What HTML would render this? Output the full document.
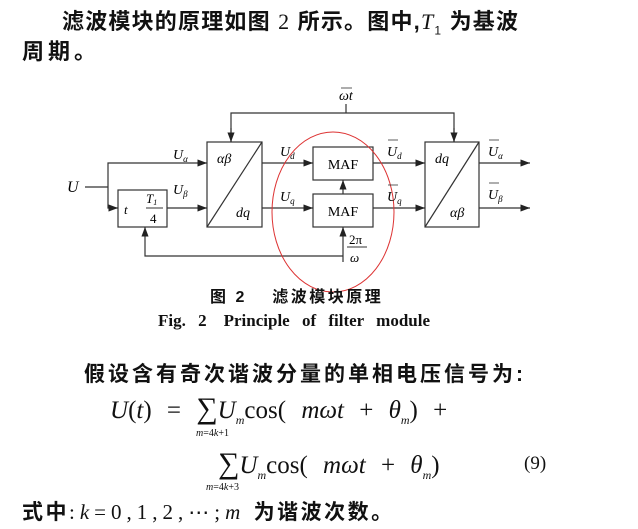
<!DOCTYPE html>
<html><head><meta charset="utf-8"><style>
body{margin:0;background:#fff;width:638px;height:529px;overflow:hidden;position:relative;font-family:"Liberation Serif","Noto Serif CJK SC",serif;color:#111}
.t{position:absolute;white-space:nowrap}
.b{font-family:"Liberation Sans","Noto Sans CJK SC",sans-serif;font-weight:bold}
</style></head><body>
<div class="t b" style="left:62px;top:4px;font-size:22px;letter-spacing:1.2px">滤波模块的原理如图 <span style="font-weight:normal;font-family:'Liberation Serif'">2</span> 所示。图中,<i style="font-family:'Liberation Serif';font-weight:normal">T</i><sub style="font-size:12px;font-weight:normal">1</sub> 为基波</div>
<div class="t b" style="left:22px;top:34px;font-size:22px;letter-spacing:4px">周期。</div>
<svg class="t" style="left:0;top:0" width="638" height="300" font-family="Liberation Serif" font-style="italic" font-size="14">
<defs><marker id="a" markerWidth="8" markerHeight="6" refX="8" refY="3" orient="auto"><path d="M0,0L8,3L0,6z" fill="#222"/></marker></defs>
<g stroke="#333" stroke-width="1.2" fill="none">
<rect x="207" y="142" width="55" height="85"/><line x1="207" y1="227" x2="262" y2="142"/>
<rect x="425" y="142" width="54" height="85"/><line x1="425" y1="227" x2="479" y2="142"/>
<rect x="313" y="147" width="60" height="33"/><rect x="313" y="194" width="60" height="33"/>
<rect x="118" y="190" width="49" height="37"/>
<path d="M231,142V113H454V142" /><line x1="346" y1="104" x2="346" y2="113"/>
<path d="M231,128V142" marker-end="url(#a)"/><path d="M454,128V142" marker-end="url(#a)"/>
<line x1="85" y1="187" x2="108" y2="187"/>
<path d="M108,187V163H207" marker-end="url(#a)"/>
<path d="M108,187V208H118" marker-end="url(#a)"/>
<line x1="167" y1="208" x2="207" y2="208" marker-end="url(#a)"/>
<line x1="262" y1="163" x2="313" y2="163" marker-end="url(#a)"/>
<line x1="262" y1="208" x2="313" y2="208" marker-end="url(#a)"/>
<line x1="373" y1="163" x2="425" y2="163" marker-end="url(#a)"/>
<line x1="373" y1="208" x2="425" y2="208" marker-end="url(#a)"/>
<line x1="479" y1="163" x2="530" y2="163" marker-end="url(#a)"/>
<line x1="479" y1="208" x2="530" y2="208" marker-end="url(#a)"/>
<line x1="343" y1="194" x2="343" y2="180" marker-end="url(#a)"/>
<path d="M343,262V227" marker-end="url(#a)"/>
<path d="M343,256H145V227" marker-end="url(#a)"/>
<ellipse cx="333" cy="212" rx="61" ry="80" stroke="#d33" stroke-width="1"/>
<line x1="347" y1="247" x2="367" y2="247" stroke-width="1"/>
<line x1="146" y1="208" x2="163" y2="208" stroke-width="1"/>
<line x1="341" y1="88" x2="352" y2="88" stroke-width="0.8"/>
<line x1="388" y1="140" x2="398" y2="140" stroke-width="0.8"/>
<line x1="388" y1="185" x2="398" y2="185" stroke-width="0.8"/>
<line x1="489" y1="140" x2="499" y2="140" stroke-width="0.8"/>
<line x1="489" y1="183" x2="499" y2="183" stroke-width="0.8"/>
</g>
<text x="339" y="100">ωt</text>
<text x="67" y="192" font-size="16">U</text>
<text x="173" y="159">U<tspan font-size="9" dy="3">α</tspan></text>
<text x="173" y="194">U<tspan font-size="9" dy="3">β</tspan></text>
<text x="217" y="163">αβ</text><text x="236" y="217">dq</text>
<text x="435" y="163">dq</text><text x="450" y="217">αβ</text>
<text x="280" y="156">U<tspan font-size="9" dy="3">d</tspan></text>
<text x="280" y="201">U<tspan font-size="9" dy="3">q</tspan></text>
<text x="387" y="156">U<tspan font-size="9" dy="3">d</tspan></text>
<text x="387" y="201">U<tspan font-size="9" dy="3">q</tspan></text>
<text x="488" y="156">U<tspan font-size="9" dy="3">α</tspan></text>
<text x="488" y="199">U<tspan font-size="9" dy="3">β</tspan></text>
<text x="124" y="214" font-size="13">t</text>
<text x="146" y="203" font-size="13">T<tspan font-size="8" dy="2">1</tspan></text>
<text x="150" y="223" font-size="13" font-style="normal">4</text>
<text x="343" y="169" font-style="normal" font-size="14" text-anchor="middle">MAF</text>
<text x="343" y="216" font-style="normal" font-size="14" text-anchor="middle">MAF</text>
<text x="349" y="244" font-style="normal" font-size="13">2π</text>
<text x="350" y="262" font-size="13">ω</text>
</svg>
<div class="t b" style="left:210px;top:283px;font-size:16px;letter-spacing:2.5px">图 2　 滤波模块原理</div>
<div class="t" style="left:158px;top:306px;font-size:17px;font-weight:bold;word-spacing:8px">Fig. 2　Principle of filter module</div>
<div class="t b" style="left:84px;top:358px;font-size:21px;letter-spacing:3px">假设含有奇次谐波分量的单相电压信号为:</div>
<div class="t" style="left:110px;top:392px;font-size:25px;word-spacing:9px"><i>U</i>(<i>t</i>) = <span style="font-size:30px">∑</span><i>U<sub style="font-size:12px">m</sub></i>cos( <i>mωt</i> + <i>θ<sub style="font-size:12px">m</sub></i>) +</div>
<div class="t" style="left:196px;top:428px;font-size:10px"><i>m</i>=4<i>k</i>+1</div>
<div class="t" style="left:218px;top:447px;font-size:25px;word-spacing:9px"><span style="font-size:30px">∑</span><i>U<sub style="font-size:12px">m</sub></i>cos( <i>mωt</i> + <i>θ<sub style="font-size:12px">m</sub></i>)</div>
<div class="t" style="left:524px;top:453px;font-size:19px">(9)</div>
<div class="t" style="left:206px;top:482px;font-size:10px"><i>m</i>=4<i>k</i>+3</div>
<div class="t b" style="left:22px;top:496px;font-size:21px;letter-spacing:2.5px">式中<span style="font-weight:normal;font-family:'Liberation Serif';letter-spacing:5px">:<i>k</i>=0,1,2,⋯;<i>m</i></span> 为谐波次数。</div>
</body></html>
